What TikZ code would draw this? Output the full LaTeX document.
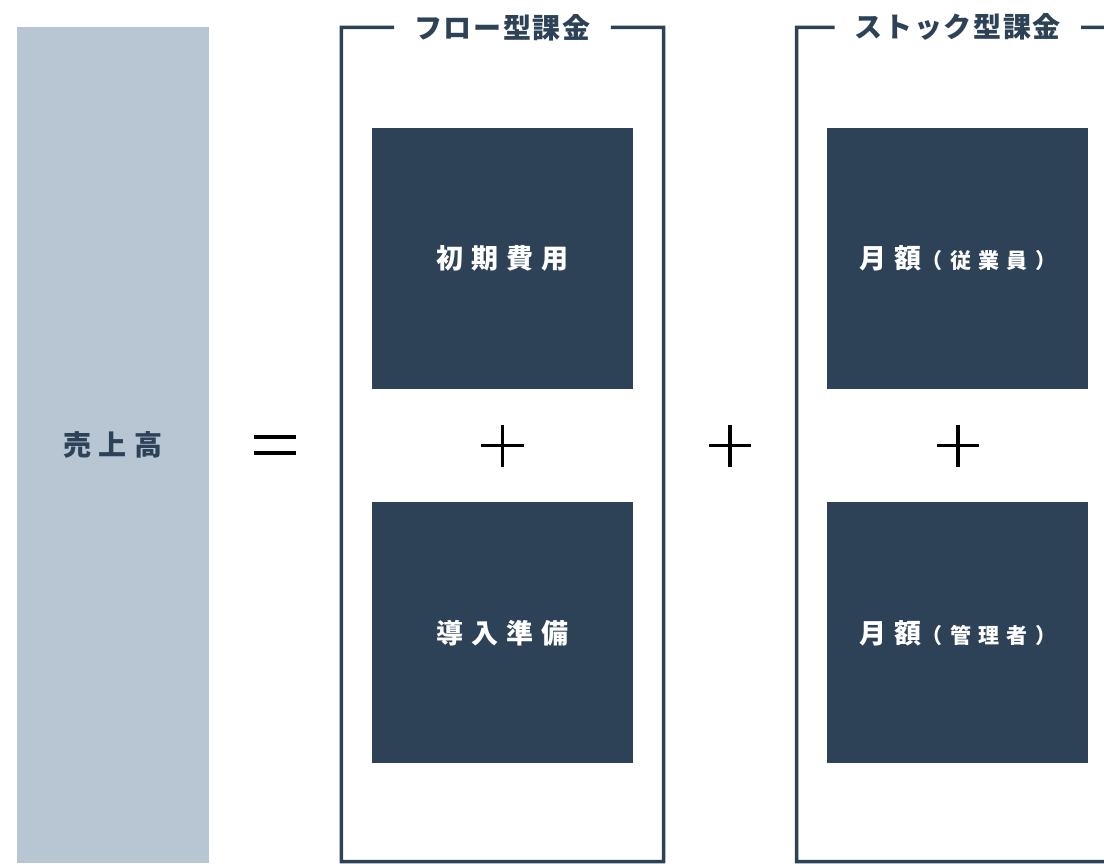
\documentclass[tikz,border=0pt]{standalone}
\usepackage{fontspec}
\setmainfont{Noto Sans CJK JP}
\usepackage{tikz}
\usetikzlibrary{positioning}
\usetikzlibrary{calc}
\definecolor{navy}{HTML}{2D4157}
\definecolor{mist}{HTML}{B8C5D2}
\newcommand{\spaced}[2]{{\addfontfeatures{LetterSpace=#1}#2}}

\begin{document}
\begin{tikzpicture}[x=1pt,y=1pt]
\tikzstyle{fee} = [rectangle, fill=navy, text=white, minimum size=261pt, inner sep=0pt, font=\fontsize{27}{32}\selectfont\bfseries, node distance = 113pt and 194pt]
\tikzstyle{sales} = [rectangle, fill=mist, text=navy, minimum width=192pt, minimum height=836pt, font=\fontsize{28}{32}\selectfont\bfseries]
\tikzstyle{group} = [text=navy, inner xsep=20pt, inner ysep=0pt, font=\fontsize{28}{32}\selectfont\bfseries]
\tikzstyle{sign} = [rectangle, inner sep=0pt, minimum size=42pt]
\tikzstyle{frame} = [draw=navy, line width=3.5pt]
\tikzstyle{stroke} = [draw=black, line width=3.5pt]

\clip (0,0) rectangle (1104,-863);
\coordinate (floor) at (0,-861.5);

\node[sales] (uriage) at (113,-445) {\spaced{28}{売上高}};

\node[fee] (shoki) at (502.5,-258.5) {\spaced{30}{初期費用}};
\node[fee] (dounyu) [below = of shoki] {\spaced{30}{導入準備}};
\node[fee] (jugyoin) [right = of shoki] {\spaced{30}{月額}{\fontsize{21}{25}\selectfont\spaced{35}{（従業員）}}};
\node[fee] (kanrisha) [below = of jugyoin] {\spaced{30}{月額}{\fontsize{21}{25}\selectfont\spaced{35}{（管理者）}}};

% brackets
\coordinate (flowTL) at ($(shoki.north west)+(-30.5,100.5)$);
\coordinate (flowTR) at ($(shoki.north east)+(30.5,100.5)$);
\coordinate (stockTL) at ($(jugyoin.north west)+(-30.5,100.5)$);
\coordinate (stockTR) at ($(jugyoin.north east)+(30.5,100.5)$);
\node[group] (flowlbl) at ($(flowTL)!0.5!(flowTR)$) {\spaced{6}{フロー型課金}};
\node[group] (stocklbl) at ($(stockTL)!0.5!(stockTR)$) {\spaced{6}{ストック型課金}};
\draw[frame] (flowlbl.west) -- (flowTL) -- (flowTL |- floor) -- (flowTR |- floor) -- (flowTR) -- (flowlbl.east);
\draw[frame] (stocklbl.west) -- (stockTL) -- (stockTL |- floor) -- (stockTR |- floor) -- (stockTR) -- (stocklbl.east);

% signs
\node[sign, minimum height=16pt] (eq) at ($(uriage.east)!0.5!(flowTL |- uriage)$) {};
\node[sign] (plusA) at ($(shoki)!0.5!(dounyu)$) {};
\node[sign] (plusC) at ($(jugyoin)!0.5!(kanrisha)$) {};
\node[sign] (plusB) at ($(plusA)!0.5!(plusC)$) {};
\draw[stroke] (eq.north west) -- (eq.north east) (eq.south west) -- (eq.south east);
\foreach \p in {plusA,plusB,plusC}
  \draw[stroke] (\p.west) -- (\p.east) (\p.north) -- (\p.south);
\end{tikzpicture}
\end{document}
